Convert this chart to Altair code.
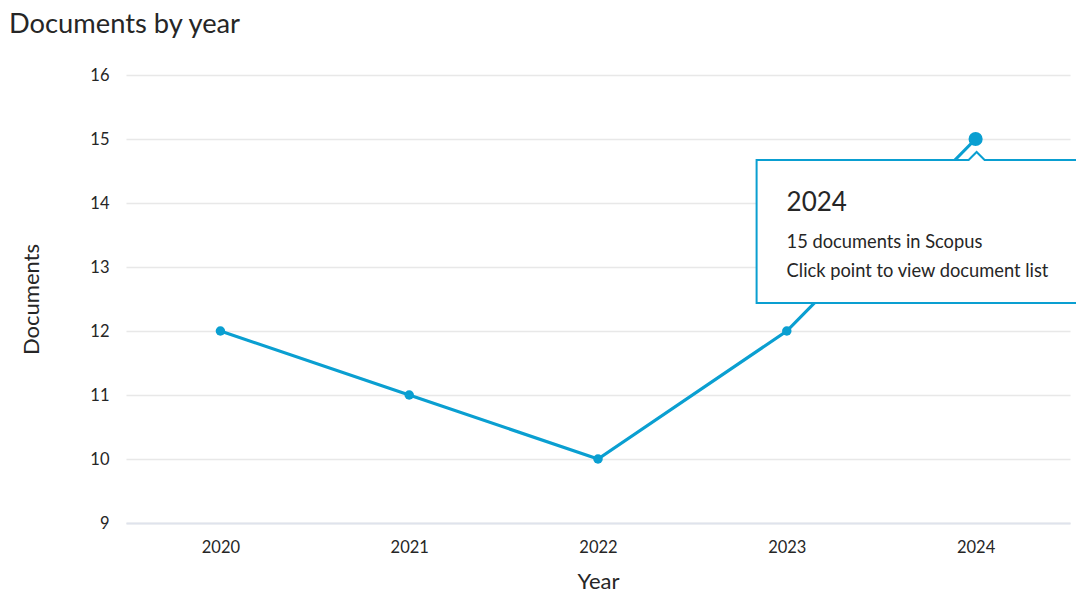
import altair as alt
import pandas as pd

# ---- data ----
years = ["2020", "2021", "2022", "2023", "2024"]
documents = [12, 11, 10, 12, 15]
y_ticks = [9, 10, 11, 12, 13, 14, 15, 16]
hover_year = "2024"
tip_head = "2024"
tip_line1 = "15 documents in Scopus"
tip_line2 = "Click point to view document list"

df = pd.DataFrame({"Year": years, "Documents": documents})
hover = df[df["Year"] == hover_year].copy()
hover["head"] = tip_head
hover["l1"] = tip_line1
hover["l2"] = tip_line2
others = df[df["Year"] != hover_year]

FONT = "Lato"
BLUE = "#0a9fd1"
TEXT = "#262626"

x = alt.X(
    "Year:O",
    scale=alt.Scale(type="point", padding=0.5),
    axis=alt.Axis(
        labelAngle=0, ticks=False, domainColor="#dfe3ec", domainWidth=2,
        labelPadding=16, titlePadding=16, grid=False,
    ),
)
y = alt.Y(
    "Documents:Q",
    scale=alt.Scale(domain=[9, 16], nice=False, zero=False),
    axis=alt.Axis(
        values=y_ticks, ticks=False, domain=False, labelPadding=17,
        gridColor="#e8e8e8", gridWidth=1.5, titlePadding=46,
    ),
)

base = alt.Chart(df).encode(x=x, y=y)

line = base.mark_line(color=BLUE, strokeWidth=3.2)
pts = alt.Chart(others).mark_circle(color=BLUE, size=90, opacity=1).encode(x=x, y=y)

# tooltip callout anchored to the hovered point (box + notch in pixel units, size=4 -> scale 1)
box_path = "M-219,21 H-7 L1,13 L9,21 H140 V164 H-219 Z"
box = alt.Chart(hover).mark_point(
    shape=box_path, size=4, filled=True, fill="white", stroke=BLUE,
    strokeWidth=2, opacity=1, fillOpacity=1, strokeOpacity=1,
).encode(x=x, y=y)

hpt = alt.Chart(hover).mark_circle(color=BLUE, size=200, opacity=1).encode(x=x, y=y)

t_head = alt.Chart(hover).mark_text(
    align="left", baseline="alphabetic", dx=-189, dy=72, fontSize=26, font=FONT, color=TEXT
).encode(x=x, y=y, text="head:N")
t_l1 = alt.Chart(hover).mark_text(
    align="left", baseline="alphabetic", dx=-189, dy=109, fontSize=18.3, font=FONT, color=TEXT
).encode(x=x, y=y, text="l1:N")
t_l2 = alt.Chart(hover).mark_text(
    align="left", baseline="alphabetic", dx=-189, dy=138, fontSize=18.3, font=FONT, color=TEXT
).encode(x=x, y=y, text="l2:N")

chart = (
    alt.layer(line, pts, box, hpt, t_head, t_l1, t_l2)
    .properties(
        width=944, height=448,
        autosize=alt.AutoSizeParams(type="none"),
        padding={"left": 126, "top": 75, "right": 6, "bottom": 72},
        background="white",
        title=alt.TitleParams(
            "Documents by year", anchor="start", frame="group", dx=-117,
            fontSize=27.3, font=FONT, color=TEXT, fontWeight="normal",
            baseline="alphabetic", offset=42, dy=35,
        ),
    )
    .configure_view(stroke=None)
    .configure_axis(
        labelFont=FONT, labelFontSize=16.5, labelColor=TEXT,
        titleFont=FONT, titleFontSize=22, titleColor=TEXT, titleFontWeight="normal",
    )
)

chart.save("out.html", embed_options={"renderer": "svg", "actions": False})
